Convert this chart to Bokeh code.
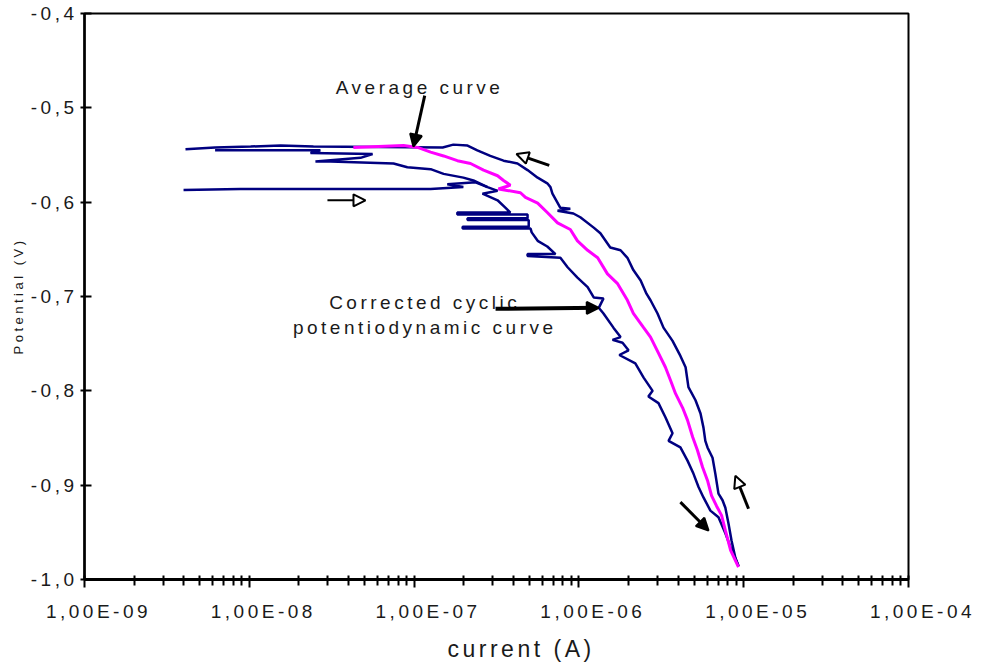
from bokeh.plotting import figure
from bokeh.models import (FixedTicker, CustomJSTickFormatter, Arrow, NormalHead,
                          Label, Range1d, InlineStyleSheet, Title)
from bokeh.embed import file_html
from bokeh.resources import INLINE

# Upward sweep of the cyclic scan (outer branch), current in A, potential in V
up_current = [9.30e-6, 8.90e-6, 8.44e-6, 8.09e-6, 7.74e-6, 7.44e-6, 7.03e-6, 6.73e-6,
              6.47e-6, 6.03e-6, 5.85e-6, 5.70e-6, 5.47e-6, 5.10e-6, 4.62e-6, 4.44e-6,
              4.13e-6, 3.70e-6, 3.26e-6, 3.00e-6, 2.72e-6, 2.57e-6, 2.37e-6, 2.14e-6,
              1.97e-6, 1.79e-6, 1.55e-6, 1.35e-6, 1.23e-6, 1.02e-6, 9.26e-7, 7.42e-7,
              8.87e-7, 7.72e-7, 6.91e-7, 6.72e-7, 6.43e-7, 5.62e-7, 4.88e-7, 4.24e-7,
              3.49e-7, 2.90e-7, 2.42e-7, 2.11e-7, 1.73e-7, 1.49e-7, 2.45e-8, 1.55e-8,
              1.02e-8, 6.2e-9, 4.1e-9]
up_potential = [-0.986, -0.977, -0.959, -0.941, -0.924, -0.916, -0.909, -0.888,
                -0.871, -0.860, -0.853, -0.839, -0.824, -0.810, -0.796, -0.775,
                -0.763, -0.747, -0.733, -0.718, -0.704, -0.697, -0.683, -0.672,
                -0.659, -0.651, -0.648, -0.633, -0.627, -0.616, -0.612, -0.609,
                -0.607, -0.606, -0.591, -0.584, -0.580, -0.574, -0.566, -0.559,
                -0.556, -0.551, -0.545, -0.540, -0.539, -0.542, -0.541, -0.540,
                -0.541, -0.542, -0.544]

# Turning region near the corrosion potential
loop_current = [6.2e-9, 2.70e-8, 2.35e-8, 5.60e-8, 4.73e-8, 2.52e-8, 3.11e-8, 7.50e-8,
                9.1e-8, 1.26e-7, 1.51e-7, 1.99e-7, 2.29e-7, 2.79e-7]
loop_potential = [-0.545, -0.545, -0.548, -0.549, -0.553, -0.557, -0.557, -0.559,
                  -0.563, -0.565, -0.570, -0.574, -0.577, -0.584]

# Downward sweep (inner branch)
down_current = [3.99e-9, 8.82e-9, 1.26e-7, 1.99e-7, 1.59e-7, 2.36e-7, 2.79e-7, 3.21e-7,
                2.60e-7, 3.21e-7, 3.59e-7, 3.84e-7, 1.83e-7, 1.83e-7, 4.88e-7, 4.88e-7,
                2.11e-7, 2.11e-7, 4.96e-7, 4.96e-7, 1.97e-7, 1.97e-7, 5.09e-7, 5.17e-7,
                5.62e-7, 6.43e-7, 7.21e-7, 4.88e-7, 4.88e-7, 7.72e-7, 8.54e-7, 9.8e-7,
                1.13e-6, 1.23e-6, 1.41e-6, 1.32e-6, 1.41e-6, 1.62e-6, 1.79e-6, 1.60e-6,
                1.84e-6, 2.0e-6, 1.76e-6, 2.2e-6, 2.47e-6, 2.80e-6, 2.64e-6, 3.04e-6,
                3.35e-6, 3.70e-6, 3.50e-6, 4.13e-6, 4.56e-6, 4.96e-6, 5.32e-6, 5.70e-6,
                6.28e-6, 7.03e-6, 7.74e-6, 8.33e-6, 9.17e-6, 9.30e-6]
down_potential = [-0.587, -0.586, -0.586, -0.584, -0.581, -0.579, -0.584, -0.588,
                  -0.591, -0.598, -0.606, -0.611, -0.611, -0.613, -0.613, -0.617,
                  -0.617, -0.619, -0.619, -0.626, -0.626, -0.628, -0.628, -0.632,
                  -0.641, -0.647, -0.655, -0.655, -0.657, -0.659, -0.669, -0.680,
                  -0.690, -0.701, -0.702, -0.712, -0.718, -0.733, -0.743, -0.746,
                  -0.749, -0.757, -0.762, -0.771, -0.786, -0.800, -0.806, -0.813,
                  -0.828, -0.845, -0.853, -0.860, -0.874, -0.888, -0.902, -0.913,
                  -0.927, -0.934, -0.951, -0.966, -0.983, -0.986]

# Average of both sweeps
avg_current = [4.28e-8, 8.63e-8, 1.05e-7, 1.26e-7, 1.51e-7, 1.83e-7, 2.20e-7, 2.64e-7,
               3.21e-7, 3.49e-7, 3.84e-7, 3.25e-7, 4.42e-7, 4.74e-7, 5.62e-7, 6.43e-7,
               7.42e-7, 8.87e-7, 9.8e-7, 1.13e-6, 1.30e-6, 1.49e-6, 1.71e-6, 1.97e-6,
               2.14e-6, 2.47e-6, 2.72e-6, 3.04e-6, 3.35e-6, 3.60e-6, 3.86e-6, 4.26e-6,
               4.56e-6, 4.90e-6, 5.24e-6, 5.63e-6, 6.03e-6, 6.38e-6, 6.84e-6, 7.34e-6,
               7.74e-6, 8.33e-6, 9.30e-6]
avg_potential = [-0.542, -0.540, -0.542, -0.547, -0.551, -0.556, -0.559, -0.566,
                 -0.572, -0.577, -0.582, -0.586, -0.590, -0.595, -0.601, -0.611,
                 -0.622, -0.629, -0.641, -0.651, -0.659, -0.676, -0.686, -0.704,
                 -0.718, -0.733, -0.743, -0.760, -0.775, -0.789, -0.803, -0.818,
                 -0.831, -0.849, -0.863, -0.881, -0.895, -0.911, -0.922, -0.932,
                 -0.948, -0.969, -0.987]

x_major = [1e-9, 1e-8, 1e-7, 1e-6, 1e-5, 1e-4]
y_major = [-1.0, -0.9, -0.8, -0.7, -0.6, -0.5, -0.4]

FONT = "Liberation Sans"
NAVY = "#000080"
MAGENTA = "#FF00FF"
INK = "#1a1a1a"
SPACING = 3.5  # px between letters

p = figure(width=983, height=671, x_axis_type="log",
           x_range=Range1d(1e-9, 1e-4), y_range=Range1d(-1.0, -0.4),
           output_backend="svg", toolbar_location=None)
p.min_border_left = 84
p.min_border_right = 75
p.min_border_top = 13
p.min_border_bottom = 92
p.background_fill_color = "white"
p.border_fill_color = "white"
p.outline_line_color = "black"
p.outline_line_width = 2
p.xgrid.visible = False
p.ygrid.visible = False

# wide letter spacing, inherited by every text drawn inside the plot
p.stylesheets = [InlineStyleSheet(css=f":host {{ letter-spacing: {SPACING}px; }}")]

# curves
p.line(up_current, up_potential, line_color=NAVY, line_width=2.5)
p.line(loop_current, loop_potential, line_color=NAVY, line_width=2.5)
p.line(down_current, down_potential, line_color=NAVY, line_width=2.5)
p.line(avg_current, avg_potential, line_color=MAGENTA, line_width=3)

# x axis (log current)
minor = [m * d for d in x_major[:-1] for m in range(2, 10)]
p.xaxis.ticker = FixedTicker(ticks=x_major, minor_ticks=minor)
p.xaxis.formatter = CustomJSTickFormatter(code="""
    const e = Math.round(Math.log10(tick));
    const s = e < 0 ? "-" : "+";
    return "1,00E" + s + String(Math.abs(e)).padStart(2, "0");
""")
p.xaxis.major_tick_in = 4
p.xaxis.major_tick_out = 8
p.xaxis.minor_tick_in = 4
p.xaxis.minor_tick_out = 6
p.xaxis.minor_tick_line_width = 2
p.xaxis.minor_tick_line_color = "black"
p.xaxis.major_label_standoff = 13
p.xaxis.axis_line_width = 3

# y axis (potential)
p.yaxis.ticker = FixedTicker(ticks=y_major, minor_ticks=[])
p.yaxis.formatter = CustomJSTickFormatter(code="""
    return tick.toFixed(1).replace(".", ",");
""")
p.yaxis.major_tick_in = 7
p.yaxis.major_tick_out = 4
p.yaxis.major_label_standoff = 17
p.yaxis.axis_line_width = 2.5

for ax in (p.xaxis[0], p.yaxis[0]):
    ax.axis_line_color = "black"
    ax.major_tick_line_width = 2
    ax.major_tick_line_color = "black"
    ax.major_label_text_font = FONT
    ax.major_label_text_font_size = "19px"
    ax.major_label_text_color = INK

# axis titles
p.add_layout(Title(text="current (A)", align="left", offset=363, standoff=19,
                   text_font=FONT, text_font_size="23px", text_font_style="normal",
                   text_color=INK), "below")
p.add_layout(Title(text="Potential (V)", align="left", offset=225, standoff=4,
                   text_font=FONT, text_font_size="13px", text_font_style="normal",
                   text_color=INK), "left")

# annotations (shifted back by half the added letter spacing)
for txt, xv, yv in [("Average curve", 1.08e-7, -0.478),
                    ("Corrected cyclic", 1.16e-7, -0.706),
                    ("potentiodynamic curve", 1.16e-7, -0.7325)]:
    p.add_layout(Label(x=xv, y=yv, x_offset=-len(txt) * SPACING / 2, text=txt,
                       text_align="center", text_baseline="alphabetic",
                       text_font=FONT, text_font_size="19px", text_color=INK))


def head(fill):
    return NormalHead(size=12, fill_color=fill, line_color="black", line_width=2)


arrows = [
    # (x_start, y_start, x_end, y_end, width, head fill)
    (1.16e-7, -0.487, 9.9e-8, -0.541, 3, "black"),
    (3.12e-7, -0.713, 1.32e-6, -0.712, 4, "black"),
    (2.98e-8, -0.598, 5.07e-8, -0.598, 2, "white"),
    (6.61e-7, -0.561, 4.18e-7, -0.549, 3, "white"),
    (1.07e-5, -0.925, 8.9e-6, -0.890, 3, "white"),
    (4.13e-6, -0.918, 6.12e-6, -0.948, 3, "black"),
]
for xs, ys, xe, ye, w, fill in arrows:
    p.add_layout(Arrow(end=head(fill), x_start=xs, y_start=ys, x_end=xe, y_end=ye,
                       line_width=w, line_color="black"))

open("out.html", "w").write(file_html(p, INLINE))
